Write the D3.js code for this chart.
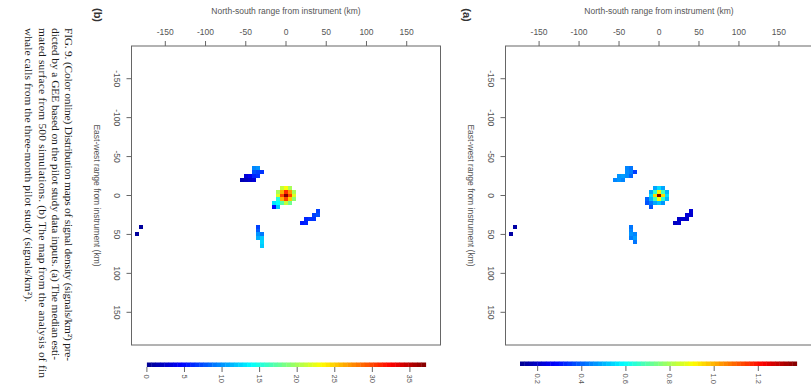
<!DOCTYPE html>
<html>
<head>
<meta charset="utf-8">
<script src="https://cdn.jsdelivr.net/npm/d3@7"></script>
<style>
  body { margin: 0; background: #fff; }
  svg { display: block; font-family: "Liberation Sans", Arial, sans-serif; }
</style>
</head>
<body>
<svg id="fig" width="811" height="388"></svg>
<script>
// --- data ---
const axisTicks = [-150, -100, -50, 0, 50, 100, 150];
const axisDomain = [-192, 192];
const cellSize = 5; // km

const barTicksA = [0.2, 0.4, 0.6, 0.8, 1.0, 1.2];
const barTicksB = [0, 5, 10, 15, 20, 25, 30, 35];
const valueRangeA = [0.12, 1.374];
const valueRangeB = [0, 37.1];

// cells: [north-south km, east-west km, value]
const cellsA = [
  // central hotspot
  [-5, -10, 0.48], [0, -10, 0.55], [5, -10, 0.48],
  [-10, -5, 0.48], [-5, -5, 0.65], [0, -5, 0.92], [5, -5, 0.68], [10, -5, 0.5],
  [-10, 0, 0.55], [-5, 0, 0.95], [0, 0, 1.37], [5, 0, 0.95], [10, 0, 0.55],
  [-10, 5, 0.5], [-5, 5, 0.68], [0, 5, 0.9], [5, 5, 0.65], [10, 5, 0.5],
  [-10, 10, 0.42], [-5, 10, 0.48], [0, 10, 0.52], [5, 10, 0.46],
  [-15, 5, 0.4], [-15, 10, 0.38], [-10, 15, 0.38],
  // upper-left group
  [-40, -35, 0.44], [-35, -35, 0.42],
  [-40, -30, 0.45], [-35, -30, 0.43], [-30, -30, 0.35],
  [-50, -25, 0.46], [-45, -25, 0.47], [-40, -25, 0.45], [-35, -25, 0.4],
  [-55, -20, 0.44], [-50, -20, 0.46], [-45, -20, 0.44],
  // lower-right diagonal
  [40, 20, 0.22], [40, 25, 0.21], [35, 25, 0.22], [35, 30, 0.2],
  [30, 30, 0.21], [25, 30, 0.2], [20, 35, 0.19], [25, 35, 0.21],
  // lower-left strip
  [-35, 40, 0.42], [-35, 45, 0.44], [-35, 50, 0.46], [-30, 50, 0.44],
  [-35, 55, 0.43], [-30, 55, 0.47], [-30, 60, 0.42],
  // far west
  [-180, 40, 0.15], [-185, 50, 0.15]
];

const cellsB = [
  // central hotspot
  [-5, -10, 21], [0, -10, 23], [5, -10, 20],
  [-10, -5, 20], [-5, -5, 26], [0, -5, 31], [5, -5, 27], [10, -5, 20],
  [-10, 0, 22], [-5, 0, 30], [0, 0, 37], [5, 0, 30], [10, 0, 22],
  [-10, 5, 15], [-5, 5, 26], [0, 5, 30], [5, 5, 25], [10, 5, 19],
  [-10, 10, 14], [-5, 10, 17], [0, 10, 21], [5, 10, 18],
  [-15, 10, 13], [-15, 15, 5], [-10, 15, 12],
  // upper-left group
  [-40, -35, 9.5], [-35, -35, 10],
  [-40, -30, 7.5], [-35, -30, 7], [-30, -30, 6.5],
  [-50, -25, 3], [-45, -25, 4], [-40, -25, 6], [-35, -25, 6.5],
  [-55, -20, 1.5], [-50, -20, 2], [-45, -20, 2.5], [-40, -20, 3],
  // lower-right diagonal
  [40, 20, 7], [40, 25, 7.5], [35, 25, 7], [35, 30, 6.5],
  [30, 30, 6.5], [25, 30, 6], [20, 35, 5.5], [25, 35, 6],
  // lower-left strip
  [-35, 40, 7], [-35, 45, 8], [-35, 50, 10], [-30, 50, 9],
  [-35, 55, 11], [-30, 55, 12], [-30, 60, 12.5], [-30, 65, 12],
  // far west
  [-180, 40, 0.6], [-185, 50, 0.6]
];

const captionLines = [
  "FIG. 9. (Color online) Distribution maps of signal density (signals/km\u00b2) pre-",
  "dicted by a GEE based on the pilot study data inputs. (a) The median esti-",
  "mated surface from 500 simulations. (b) The map from the analysis of fin",
  "whale calls from the three-month pilot study (signals/km\u00b2)."
];

// jet-like palette (tim.colors)
const jet = d3.scaleLinear()
  .domain([0, 0.125, 0.375, 0.625, 0.875, 1])
  .range(["#00008f", "#0000ff", "#00ffff", "#ffff00", "#ff0000", "#800000"])
  .clamp(true);

const svg = d3.select("#fig");
const textCol = "#555";
const lineCol = "#666";

// --- one image.plot panel ---
function drawPanel(p) {
  const x = d3.scaleLinear().domain(axisDomain).range([p.left, p.right]);
  const y = d3.scaleLinear().domain(axisDomain).range([46, 345]);
  const norm = d3.scaleLinear().domain(p.valueRange).range([0, 1]);
  const g = svg.append("g");

  g.append("g").selectAll("rect").data(p.cells).join("rect")
    .attr("x", d => x(d[0] - cellSize / 2))
    .attr("y", d => y(d[1] - cellSize / 2))
    .attr("width", d => x(d[0] + cellSize / 2) - x(d[0] - cellSize / 2))
    .attr("height", d => y(d[1] + cellSize / 2) - y(d[1] - cellSize / 2))
    .attr("fill", d => jet(norm(d[2])))
    .attr("shape-rendering", "crispEdges");

  g.append("rect")
    .attr("x", p.left).attr("y", 46)
    .attr("width", p.right - p.left).attr("height", 299)
    .attr("fill", "none").attr("stroke", lineCol);

  // top axis
  g.selectAll(".xt").data(axisTicks).join("line")
    .attr("x1", d => x(d)).attr("x2", d => x(d))
    .attr("y1", 41).attr("y2", 46).attr("stroke", lineCol);
  g.selectAll(".xl").data(axisTicks).join("text")
    .attr("x", d => x(d)).attr("y", 35)
    .attr("text-anchor", "middle").attr("font-size", 8.5).attr("fill", textCol)
    .text(d => d);
  g.append("text")
    .attr("x", x(0)).attr("y", 14).attr("text-anchor", "middle")
    .attr("font-size", 8.5).attr("fill", textCol)
    .text("North-south range from instrument (km)");

  // left axis
  g.selectAll(".yt").data(axisTicks).join("line")
    .attr("x1", p.left - 5).attr("x2", p.left)
    .attr("y1", d => y(d)).attr("y2", d => y(d)).attr("stroke", lineCol);
  g.selectAll(".yl").data(axisTicks).join("text")
    .attr("transform", d => `translate(${p.left - 18},${y(d)}) rotate(90)`)
    .attr("text-anchor", "middle").attr("font-size", 8.5).attr("fill", textCol)
    .text(d => d);
  g.append("text")
    .attr("transform", `translate(${p.left - 38},${y(0)}) rotate(90)`)
    .attr("text-anchor", "middle").attr("font-size", 8.5).attr("fill", textCol)
    .text("East-west range from instrument (km)");

  // panel letter
  g.append("text")
    .attr("transform", `translate(${p.letterX},15) rotate(90)`)
    .attr("text-anchor", "middle").attr("font-size", 11).attr("font-weight", "bold")
    .attr("fill", "#333")
    .text(p.letter);

  // colour bar
  const cb = d3.scaleLinear().domain(p.valueRange).range(p.barRange);
  const steps = d3.range(64);
  const span = p.valueRange[1] - p.valueRange[0];
  g.append("g").selectAll("rect").data(steps).join("rect")
    .attr("x", i => cb(p.valueRange[0] + span * i / 64))
    .attr("width", i => cb(p.valueRange[0] + span * (i + 1) / 64) - cb(p.valueRange[0] + span * i / 64) + 0.4)
    .attr("y", p.barY).attr("height", 4.5)
    .attr("fill", i => jet((i + 0.5) / 64));
  g.selectAll(".ct").data(p.barTicks).join("line")
    .attr("x1", d => cb(d)).attr("x2", d => cb(d))
    .attr("y1", p.barY + 4.5).attr("y2", p.barY + 9.5).attr("stroke", lineCol);
  g.selectAll(".cl").data(p.barTicks).join("text")
    .attr("transform", d => `translate(${cb(d) - 2.7},${p.barY + 12}) rotate(90)`)
    .attr("text-anchor", "start").attr("font-size", 7.5).attr("fill", textCol)
    .text(d => p.barFormat(d));
}

drawPanel({
  cells: cellsB, valueRange: valueRangeB, left: 131.5, right: 440.5,
  letter: "(b)", letterX: 94,
  barRange: [146.9, 425.7], barY: 362.5, barTicks: barTicksB, barFormat: d3.format("d")
});
drawPanel({
  cells: cellsA, valueRange: valueRangeA, left: 505.5, right: 812.5,
  letter: "(a)", letterX: 463,
  barRange: [520, 796.7], barY: 361.5, barTicks: barTicksA, barFormat: d3.format(".1f")
});

// caption (rotated page column)
const capX = [65, 52, 38.5, 25];
const capLen = [333, 332, 350, 274];
captionLines.forEach((line, i) => {
  svg.append("text")
    .attr("transform", `translate(${capX[i]},28) rotate(90)`)
    .attr("font-family", "'Liberation Serif', 'Times New Roman', serif")
    .attr("font-size", 11.4).attr("fill", "#1a1a1a")
    .attr("textLength", capLen[i]).attr("lengthAdjust", "spacing")
    .text(line);
});
</script>
</body>
</html>
